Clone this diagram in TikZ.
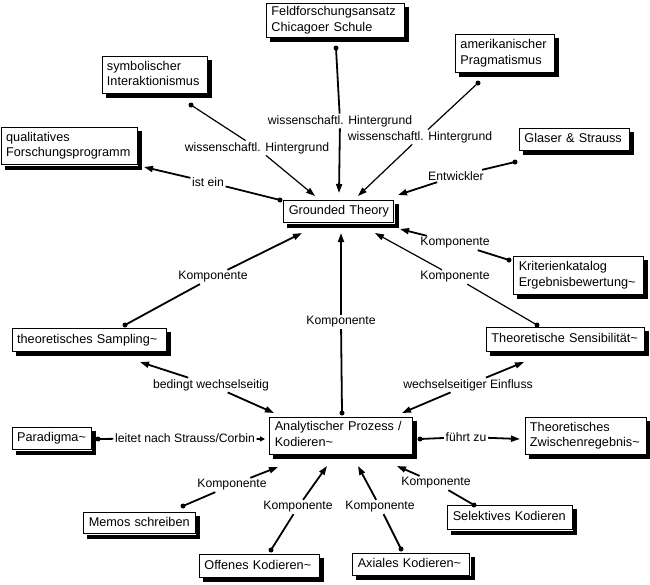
\documentclass[tikz,border=0pt]{standalone}
\usepackage{fontspec}
\setmainfont{Liberation Sans}
\usetikzlibrary{arrows.meta}
\newcommand{\boxfont}{\fontsize{12.7}{15.6}\selectfont}
\newcommand{\lblfont}{\fontsize{12.2}{14}\selectfont}
\tikzset{
  cbox/.style={draw, line width=0.9pt, fill=white, anchor=north west, align=left,
    inner xsep=5pt, inner ysep=1pt, font=\boxfont},
  lbl/.style={fill=white, inner sep=1.5pt, font=\lblfont},
  seg/.style={line width=1.8pt},
  thinseg/.style={line width=1.2pt},
  arr/.style={line width=1.8pt, -{Triangle[length=9pt,width=6pt]}},
  thinarr/.style={line width=1.2pt, -{Triangle[length=9pt,width=6pt]}},
  smallarr/.style={line width=1.8pt, -{Triangle[length=5pt,width=5pt]}},
  srcdot/.style={circle, fill=black, inner sep=0pt, minimum size=5pt},
  shadowband/.style={draw=black, line width=4pt, line join=miter, line cap=butt},
}
% #1 name, #2 x, #3 y, #4 width, #5 height, #6 text width, #7 text
\newcommand{\cmapbox}[7]{%
  \node[cbox, text width=#6pt, minimum height=#5pt] (#1) at (#2,#3)
    {\begin{tabular}{@{}l@{}}#7\end{tabular}};
  \draw[shadowband] ([xshift=2.4pt,yshift=-4pt]#1.north east)
    -- ([xshift=2.4pt,yshift=-2.4pt]#1.south east)
    -- ([xshift=4pt,yshift=-2.4pt]#1.south west);
}
\begin{document}
\begin{tikzpicture}[x=1pt,y=-1pt]
\useasboundingbox (0,0) rectangle (650,584);
% boxes
\cmapbox{feld}{266}{3}{138}{34}{128}{Feldforschungsansatz\\Chicagoer Schule}
\cmapbox{symb}{101.5}{55.5}{105.5}{37.5}{95.5}{symbolischer\\Interaktionismus}
\cmapbox{qual}{0.7}{126.7}{136.3}{37.5}{126.3}{qualitatives\\Forschungsprogramm}
\cmapbox{amer}{455}{34}{99}{37.7}{89}{amerikanischer\\Pragmatismus}
\cmapbox{glas}{519}{128.3}{110}{21.7}{100}{Glaser \& Strauss}
\cmapbox{gt}{283.3}{200}{110}{22.3}{100}{Grounded Theory}
\cmapbox{krit}{513.3}{256}{129.4}{38}{119.4}{Kriterienkatalog\\Ergebnisbewertung\textasciitilde}
\cmapbox{samp}{11.7}{328.3}{154}{22.7}{144}{theoretisches Sampling\textasciitilde}
\cmapbox{sens}{486}{327.3}{158}{23.7}{148}{Theoretische Sensibilität\textasciitilde}
\cmapbox{para}{11.7}{426.7}{79}{22.6}{69}{Paradigma\textasciitilde}
\cmapbox{anal}{269.3}{416.7}{142.4}{37}{132.4}{Analytischer Prozess /\\Kodieren\textasciitilde}
\cmapbox{zwis}{524.5}{416.7}{121.2}{37.3}{111.2}{Theoretisches\\Zwischenregebnis\textasciitilde}
\cmapbox{memo}{83.3}{511.7}{111.7}{21.6}{101.7}{Memos schreiben}
\cmapbox{sel}{447.3}{505}{124.4}{24.3}{114.4}{Selektives Kodieren}
\cmapbox{off}{199}{554.3}{120}{22.4}{110}{Offenes Kodieren\textasciitilde}
\cmapbox{axi}{352.3}{552.7}{117}{22.3}{107}{Axiales Kodieren\textasciitilde}

% connector end points
\coordinate (s1) at (336,48);   \coordinate (t1) at (339,193);
\coordinate (s2) at (478,83);   \coordinate (t2) at (358,196);
\coordinate (s3) at (191,105);  \coordinate (t3) at (315,196);
\coordinate (s4) at (280,200);  \coordinate (t4) at (144,167);
\coordinate (s5) at (515,162);  \coordinate (t5) at (398,195);
\coordinate (s6) at (509,260);  \coordinate (t6) at (400,229);
\coordinate (s7) at (537,325);  \coordinate (t7) at (375,233);
\coordinate (s8) at (125,325);  \coordinate (t8) at (302,233);
\coordinate (s9) at (342,413);  \coordinate (t9) at (341,233);
\coordinate (ta) at (140,362);  \coordinate (tb) at (274,413);
\coordinate (tc) at (402,413);  \coordinate (td) at (524,362);
\coordinate (s12) at (98,439);  \coordinate (t12) at (265,439);
\coordinate (s13) at (420,439); \coordinate (t13) at (520,439);
\coordinate (s14) at (183,506); \coordinate (t14) at (278,467);
\coordinate (s15) at (271,550); \coordinate (t15) at (327,466);
\coordinate (s16) at (401,549); \coordinate (t16) at (358,466);
\coordinate (s17) at (474,505); \coordinate (t17) at (397,466);

% labels
\node[lbl] (l1) at (340,121) {wissenschaftl. Hintergrund};
\node[lbl] (l2) at (420,137) {wissenschaftl. Hintergrund};
\node[lbl] (l3) at (257,148) {wissenschaftl. Hintergrund};
\node[lbl] (l4) at (208,182) {ist ein};
\node[lbl] (l5) at (456,176) {Entwickler};
\node[lbl] (l6) at (455,243) {Komponente};
\node[lbl] (l7) at (455,277) {Komponente};
\node[lbl] (l8) at (213,277) {Komponente};
\node[lbl] (l9) at (341,322) {Komponente};
\node[lbl] (l10) at (211,385) {bedingt wechselseitig};
\node[lbl] (l11) at (468,385) {wechselseitiger Einfluss};
\node[lbl] (l12) at (185,438) {leitet nach Strauss/Corbin};
\node[lbl] (l13) at (466,437) {führt zu};
\node[lbl] (l14) at (232,485) {Komponente};
\node[lbl] (l15) at (298,507) {Komponente};
\node[lbl] (l16) at (380,507) {Komponente};
\node[lbl] (l17) at (436,483) {Komponente};

% connectors
\draw[seg] (s1) -- (l1); \draw[arr] (l1) -- (t1);
\draw[thinseg] (s2) -- (l2); \draw[thinarr] (l2) -- (t2);
\draw[thinseg] (s3) -- (l3); \draw[thinarr] (l3) -- (t3);
\draw[seg] (s4) -- (l4); \draw[arr] (l4) -- (t4);
\draw[seg] (s5) -- (l5); \draw[arr] (l5) -- (t5);
\draw[seg] (s6) -- (l6); \draw[arr] (l6) -- (t6);
\draw[thinseg] (s7) -- (l7); \draw[thinarr] (l7) -- (t7);
\draw[seg] (s8) -- (l8); \draw[arr] (l8) -- (t8);
\draw[seg] (s9) -- (l9); \draw[arr] (l9) -- (t9);
\draw[arr] (l10) -- (ta); \draw[arr] (l10) -- (tb);
\draw[arr] (l11) -- (tc); \draw[arr] (l11) -- (td);
\draw[seg] (s12) -- (l12); \draw[smallarr] (l12) -- (t12);
\draw[seg] (s13) -- (l13); \draw[arr] (l13) -- (t13);
\draw[seg] (s14) -- (l14); \draw[arr] (l14) -- (t14);
\draw[seg] (s15) -- (l15); \draw[arr] (l15) -- (t15);
\draw[seg] (s16) -- (l16); \draw[arr] (l16) -- (t16);
\draw[seg] (s17) -- (l17); \draw[arr] (l17) -- (t17);

% source dots
\foreach \p in {s1,s2,s3,s4,s5,s6,s7,s8,s9,s12,s13,s14,s15,s16,s17}
  \node[srcdot] at (\p) {};
\end{tikzpicture}
\end{document}
